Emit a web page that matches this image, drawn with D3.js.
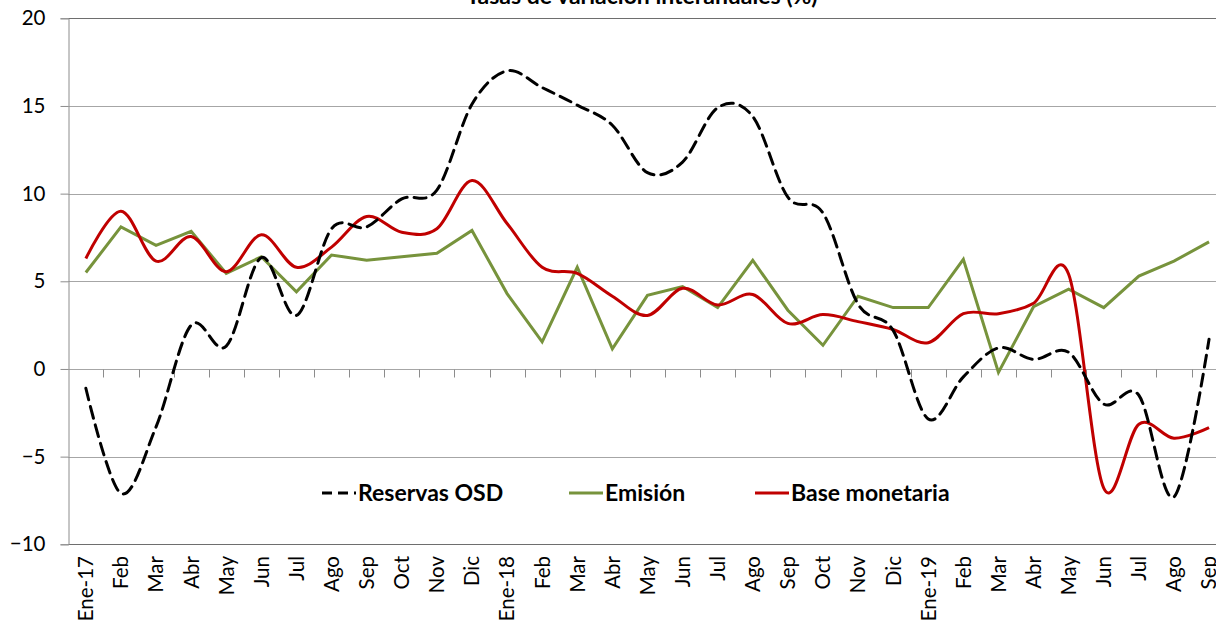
<!DOCTYPE html>
<html>
  <head>
    <meta charset="utf-8">
    <script src="https://d3js.org/d3.v7.min.js"></script>
    <style>
      body { margin: 0; background: #fff; }
      svg { display: block; font-family: Lato, "Open Sans", sans-serif; }
      .tick-label { font-size: 20.5px; fill: #000; }
      .legend text { font-size: 23px; font-weight: bold; }
    </style>
  </head>
  <body>
    <svg id="chart" width="1216" height="629"></svg>

    <script>
      var months = ["Ene-17","Feb","Mar","Abr","May","Jun","Jul","Ago","Sep","Oct","Nov","Dic",
                    "Ene-18","Feb","Mar","Abr","May","Jun","Jul","Ago","Sep","Oct","Nov","Dic",
                    "Ene-19","Feb","Mar","Abr","May","Jun","Jul","Ago","Sep"];

      var reservas = [-1.1,-7.1,-3.3,2.5,1.3,6.35,3.05,8.0,8.1,9.7,10.2,15.1,
                      17.0,16.05,15.05,13.9,11.2,11.8,14.9,14.4,9.8,8.9,3.7,2.2,
                      -2.85,-0.45,1.2,0.55,0.95,-2.0,-1.5,-7.3,1.7];

      var emision = [5.5,8.1,7.05,7.85,5.45,6.4,4.4,6.5,6.2,6.4,6.6,7.9,
                     4.3,1.55,5.8,1.15,4.2,4.7,3.5,6.2,3.35,1.35,4.15,3.5,
                     3.5,6.25,-0.2,3.55,4.55,3.5,5.3,6.15,7.25];

      var baseMonetaria = [6.3,9.0,6.15,7.55,5.55,7.65,5.8,6.95,8.7,7.8,8.0,10.75,
                           8.3,5.8,5.45,4.15,3.05,4.6,3.65,4.25,2.6,3.1,2.7,2.25,
                           1.5,3.15,3.15,3.75,5.4,-6.8,-3.15,-3.95,-3.35];

      var yTicks = [-10,-5,0,5,10,15,20];

      var svg = d3.select("#chart");

      var idx = d3.range(months.length);
      var x = d3.scaleBand().domain(idx).range([68.3, 1226.6]).padding(0);
      var cx = i => x(i) + x.bandwidth() / 2;
      var y = d3.scaleLinear().domain([-10, 20]).range([544.3, 18.3]);

      // horizontal gridlines
      svg.append("g")
        .selectAll("line")
        .data(yTicks)
        .enter().append("line")
          .attr("x1", 68.3).attr("x2", 1226.6)
          .attr("y1", d => Math.round(y(d)) + 0.5)
          .attr("y2", d => Math.round(y(d)) + 0.5)
          .style("stroke", d => (d === 20 || d === -10) ? "#6e6e6e" : "#a6a6a6");

      // y axis
      var yAxis = svg.append("g")
        .attr("transform", "translate(68.5,0)")
        .call(d3.axisLeft(y).tickValues(yTicks).tickSize(8).tickPadding(15));
      yAxis.select(".domain").attr("stroke", "#8c8c8c");
      yAxis.selectAll(".tick line").attr("stroke", "#8c8c8c");
      yAxis.selectAll(".tick text").attr("class", "tick-label").style("font-family", "Lato, sans-serif");

      // x axis crossing at 0, ticks between categories
      var zeroY = Math.round(y(0)) + 0.5;
      var xAxis = svg.append("g")
        .attr("transform", "translate(0," + zeroY + ")")
        .call(d3.axisBottom(x).tickValues(idx.slice(1)).tickSize(8).tickFormat(""));
      xAxis.select(".domain").remove();
      xAxis.selectAll(".tick").attr("transform", d => "translate(" + (Math.round(x(d)) + 0.5) + ",0)");
      xAxis.selectAll(".tick line").attr("stroke", "#8c8c8c");

      // category labels at the bottom, rotated
      svg.append("g").selectAll("text")
        .data(idx)
        .enter().append("text")
          .attr("class", "tick-label")
          .attr("transform", d => "translate(" + cx(d) + ",556) rotate(-90)")
          .attr("text-anchor", "end")
          .attr("dy", "0.36em")
          .text(d => months[d]);

      var line = d3.line()
        .x((d, i) => cx(i))
        .y(d => y(d))
        .curve(d3.curveCatmullRom.alpha(0));

      svg.append("path")
        .datum(emision)
        .attr("fill", "none")
        .attr("stroke", "#77933c")
        .attr("stroke-width", 3)
        .attr("d", d3.line().x((d, i) => cx(i)).y(d => y(d)));

      svg.append("path")
        .datum(baseMonetaria)
        .attr("fill", "none")
        .attr("stroke", "#c00000")
        .attr("stroke-width", 3)
        .attr("d", line);

      svg.append("path")
        .datum(reservas)
        .attr("fill", "none")
        .attr("stroke", "#000")
        .attr("stroke-width", 3)
        .attr("stroke-dasharray", "12,7")
        .attr("stroke-linecap", "round")
        .attr("d", line);

      // title, mostly above the top edge as in the original
      svg.append("text")
        .attr("x", 642)
        .attr("y", 4)
        .attr("text-anchor", "middle")
        .style("font-size", "23px")
        .style("font-weight", "bold")
        .text("Tasas de variación interanuales (%)");

      // legend
      var legendItems = [
        {name: "Reservas OSD", color: "#000", dash: "10,6", x: 322},
        {name: "Emisión", color: "#77933c", dash: null, x: 569},
        {name: "Base monetaria", color: "#c00000", dash: null, x: 755}
      ];
      var lg = svg.append("g").attr("class", "legend")
        .selectAll("g")
        .data(legendItems)
        .enter().append("g")
          .attr("transform", d => "translate(" + d.x + ",493)");
      lg.append("line")
        .attr("x1", 0).attr("x2", 34)
        .attr("stroke", d => d.color)
        .attr("stroke-width", 3)
        .attr("stroke-dasharray", d => d.dash);
      lg.append("text")
        .attr("x", 36)
        .attr("dy", "0.35em")
        .text(d => d.name);
    </script>
  </body>
</html>
